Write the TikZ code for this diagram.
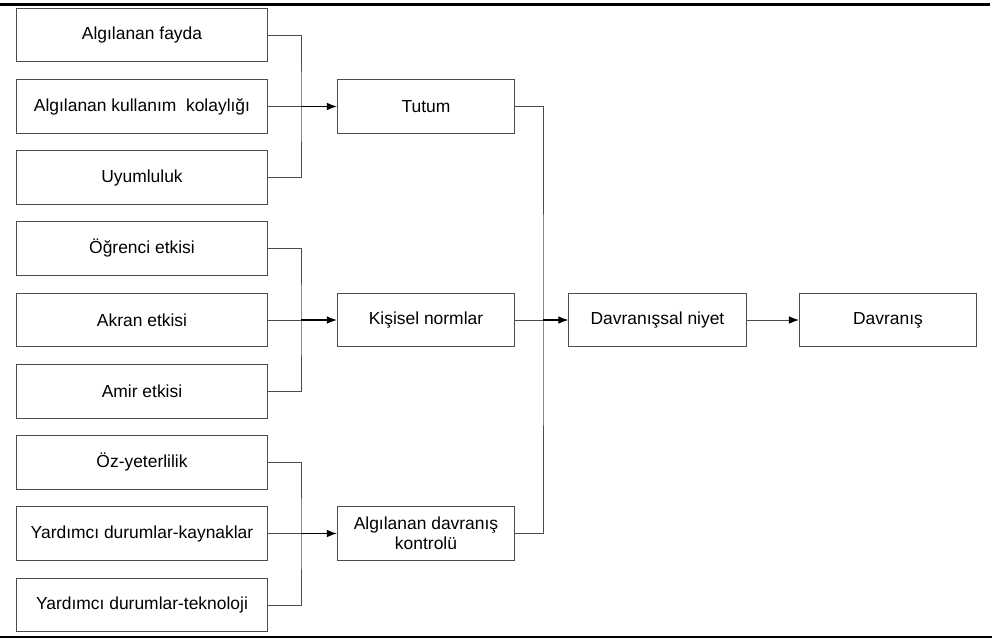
\documentclass[tikz,border=0pt]{standalone}
\usepackage{fontspec}
\setmainfont{Liberation Sans}
\usepackage{tikz}
\usetikzlibrary{arrows.meta}

\tikzset{
  kutu/.style={draw=black!70, line width=0.7pt, fill=white, minimum height=1.33cm,
    inner sep=1pt, align=center, font=\fontsize{12.4}{14.5}\selectfont},
  sol/.style={kutu, minimum width=6.25cm},
  orta/.style={kutu, minimum width=4.43cm},
  bag/.style={draw=black!70, line width=0.7pt},
  ok/.style={draw=black, line width=0.8pt, -{Latex[length=2.5mm,width=1.9mm]}}
}

\begin{document}
\begin{tikzpicture}[x=0.025cm, y=-0.025cm]
\useasboundingbox (0,0) rectangle (992,640);
\draw[line width=1.5pt] (0,4.5) -- (990,4.5);
\draw[line width=1.5pt] (0,637) -- (992,637);

% sol sutun
\node[sol](fayda) at (142,35){Algılanan fayda};
\node[sol](kolay) at (142,106.5){Algılanan kullanım\ \ kolaylığı};
\node[sol](uyum) at (142,177.5){Uyumluluk};
\node[sol](ogrenci) at (142,248.5){Öğrenci etkisi};
\node[sol](akran) at (142,320){Akran etkisi};
\node[sol](amir) at (142,391.5){Amir etkisi};
\node[sol](oz) at (142,462.5){Öz-yeterlilik};
\node[sol](kaynak) at (142,533.5){Yardımcı durumlar-kaynaklar};
\node[sol](teknoloji) at (142,605){Yardımcı durumlar-teknoloji};

% orta sutun
\node[orta](tutum) at (426,106.5){Tutum};
\node[orta](normlar) at (426,320){Kişisel normlar};
\node[orta](kontrol) at (426,533.5){Algılanan davranış\\kontrolü};

% sag
\node[orta](niyet) at (657.5,320){Davranışsal niyet};
\node[orta](davranis) at (888,320){Davranış};

\coordinate (b1) at (301,106.5);
\coordinate (b2) at (301,320);
\coordinate (b3) at (301,533.5);
\coordinate (b4) at (543,320);

\draw[bag] (fayda.east) -| (b1) |- (uyum.east);
\draw[bag] (kolay.east) -- (b1);
\draw[ok] (b1) -- (tutum.west);

\draw[bag] (ogrenci.east) -| (b2) |- (amir.east);
\draw[bag] (akran.east) -- (b2);
\draw[ok] (b2) -- (normlar.west);

\draw[bag] (oz.east) -| (b3) |- (teknoloji.east);
\draw[bag] (kaynak.east) -- (b3);
\draw[ok] (b3) -- (kontrol.west);

\draw[bag] (tutum.east) -| (b4) |- (kontrol.east);
\draw[bag] (normlar.east) -- (b4);
\draw[ok] (b4) -- (niyet.west);
\draw[bag, -{Latex[length=2.5mm,width=1.9mm,black]}] (niyet.east) -- (davranis.west);
\end{tikzpicture}
\end{document}
